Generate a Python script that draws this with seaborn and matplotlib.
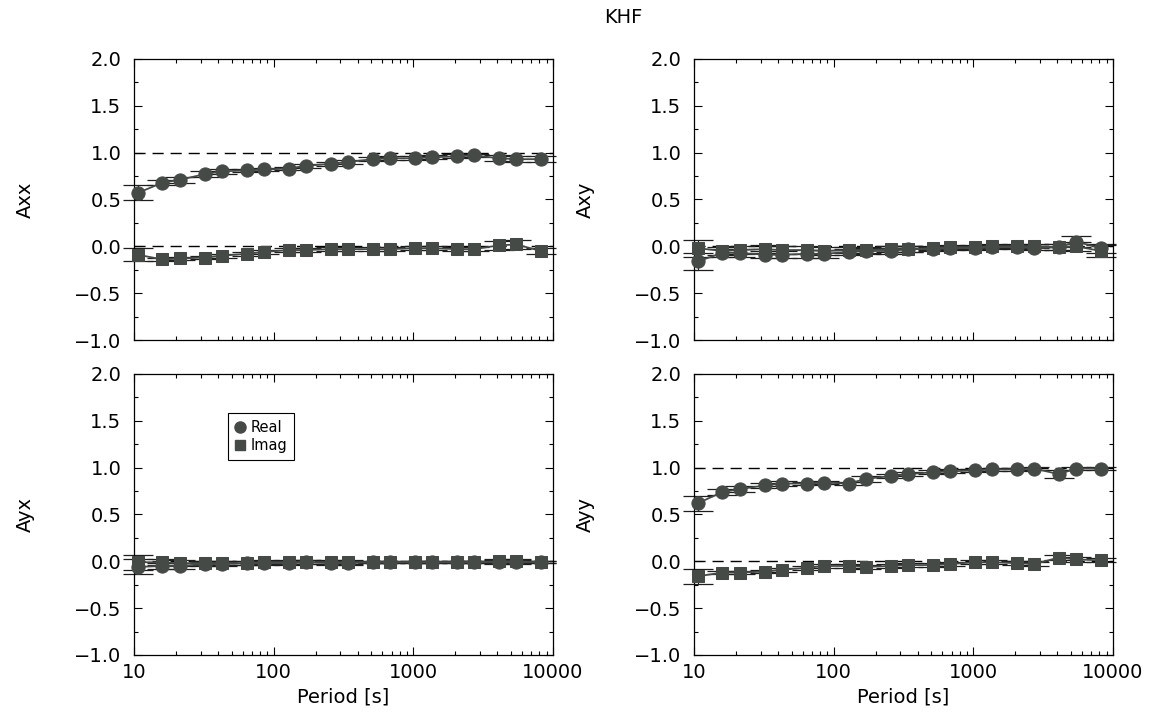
import numpy as np
import pandas as pd
import matplotlib.pyplot as plt
import seaborn as sns
from matplotlib.lines import Line2D
from matplotlib.ticker import MultipleLocator, FixedLocator, FixedFormatter, LogLocator, NullFormatter

# Данные: периоды и компоненты (Real / Imag) с погрешностями
periods = [10.67, 16, 21.33, 32, 42.67, 64, 85.33, 128, 170.67, 256, 341.33,
           512, 682.67, 1024, 1365.33, 2048, 2730.67, 4096, 5461.33, 8192]

axx_re = [0.57, 0.68, 0.71, 0.77, 0.80, 0.81, 0.82, 0.83, 0.86, 0.88, 0.90,
          0.93, 0.94, 0.94, 0.95, 0.96, 0.97, 0.94, 0.93, 0.93]
axx_im = [-0.09, -0.14, -0.13, -0.12, -0.10, -0.08, -0.06, -0.04, -0.04, -0.03, -0.03,
          -0.03, -0.03, -0.02, -0.02, -0.03, -0.03, 0.01, 0.02, -0.05]
axx_re_err = [0.08, 0.03, 0.03, 0.03, 0.03, 0.02, 0.02, 0.02, 0.02, 0.02, 0.02,
              0.02, 0.02, 0.02, 0.02, 0.02, 0.02, 0.03, 0.03, 0.03]
axx_im_err = [0.07, 0.02, 0.02, 0.02, 0.02, 0.02, 0.02, 0.02, 0.02, 0.02, 0.02,
              0.02, 0.02, 0.02, 0.02, 0.02, 0.02, 0.05, 0.05, 0.03]

axy_re = [-0.16, -0.07, -0.07, -0.09, -0.09, -0.08, -0.08, -0.06, -0.05, -0.05, -0.03,
          -0.03, -0.02, -0.02, -0.01, -0.01, -0.02, -0.01, 0.05, -0.02]
axy_im = [-0.02, -0.05, -0.04, -0.03, -0.04, -0.04, -0.05, -0.04, -0.04, -0.03, -0.03,
          -0.02, -0.01, -0.01, 0.00, 0.00, 0.00, -0.01, 0.00, -0.05]
axy_re_err = [0.09, 0.04, 0.04, 0.04, 0.04, 0.04, 0.04, 0.03, 0.03, 0.03, 0.03,
              0.02, 0.02, 0.02, 0.02, 0.02, 0.02, 0.03, 0.06, 0.05]
axy_im_err = [0.09, 0.04, 0.04, 0.04, 0.04, 0.04, 0.04, 0.03, 0.03, 0.03, 0.03,
              0.02, 0.02, 0.02, 0.02, 0.02, 0.02, 0.03, 0.05, 0.06]

ayx_re = [-0.06, -0.05, -0.05, -0.03, -0.03, -0.02, -0.02, -0.02, -0.01, -0.02, -0.02,
          -0.01, -0.01, -0.01, -0.01, -0.01, -0.01, -0.01, -0.01, -0.01]
ayx_im = [-0.01, -0.01, -0.02, -0.02, -0.02, -0.02, -0.01, -0.01, -0.01, -0.01, -0.01,
          -0.01, -0.01, -0.01, -0.01, -0.01, -0.01, 0.00, 0.00, -0.01]
ayx_re_err = [0.08, 0.03, 0.03, 0.02, 0.02, 0.02, 0.02, 0.02, 0.02, 0.02, 0.02,
              0.01, 0.01, 0.01, 0.01, 0.01, 0.01, 0.02, 0.02, 0.01]
ayx_im_err = [0.08, 0.03, 0.03, 0.02, 0.02, 0.02, 0.02, 0.02, 0.02, 0.02, 0.02,
              0.01, 0.01, 0.01, 0.01, 0.01, 0.01, 0.02, 0.02, 0.01]

ayy_re = [0.62, 0.74, 0.77, 0.81, 0.83, 0.83, 0.84, 0.83, 0.88, 0.91, 0.93,
          0.95, 0.96, 0.97, 0.98, 0.98, 0.99, 0.93, 0.99, 0.99]
ayy_im = [-0.16, -0.12, -0.12, -0.11, -0.09, -0.07, -0.05, -0.05, -0.06, -0.05, -0.04,
          -0.04, -0.03, -0.01, -0.01, -0.02, -0.03, 0.04, 0.02, 0.01]
ayy_re_err = [0.08, 0.03, 0.03, 0.03, 0.03, 0.02, 0.02, 0.02, 0.03, 0.02, 0.02,
              0.02, 0.02, 0.02, 0.02, 0.02, 0.02, 0.04, 0.02, 0.02]
ayy_im_err = [0.08, 0.02, 0.02, 0.02, 0.02, 0.02, 0.02, 0.02, 0.02, 0.02, 0.02,
              0.02, 0.02, 0.02, 0.02, 0.02, 0.02, 0.03, 0.03, 0.02]

panels = [
    ("Axx", axx_re, axx_im, axx_re_err, axx_im_err, True),
    ("Axy", axy_re, axy_im, axy_re_err, axy_im_err, False),
    ("Ayx", ayx_re, ayx_im, ayx_re_err, ayx_im_err, False),
    ("Ayy", ayy_re, ayy_im, ayy_re_err, ayy_im_err, True),
]

sns.set_style("ticks")
plt.rcParams['font.family'] = ['DejaVu Sans']
plt.rcParams['axes.unicode_minus'] = True
for key in ('text.color', 'axes.labelcolor', 'xtick.color', 'ytick.color'):
    plt.rcParams[key] = 'black'

mark_col = "#454a47"
line_col = "#1e1e1e"
fs = 14

fig = plt.figure(figsize=(11.58, 7.17), dpi=100)
# позиции осей (в долях фигуры)
rects = [
    [0.1157, 0.5258, 0.3618, 0.3920],
    [0.5993, 0.5258, 0.3618, 0.3920],
    [0.1157, 0.0865, 0.3618, 0.3920],
    [0.5993, 0.0865, 0.3618, 0.3920],
]

for i, (name, re, im, re_err, im_err, diag) in enumerate(panels):
    ax = fig.add_axes(rects[i])
    ax.set_xscale("log")

    if diag:
        ax.axhline(1.0, color="black", lw=1.0, ls=(0, (8, 5)), zorder=1)
    ax.axhline(0.0, color="black", lw=1.0, ls=(0, (8, 5)), zorder=1)

    for vals, errs in ((re, re_err), (im, im_err)):
        cont = ax.errorbar(periods, vals, yerr=errs, fmt="none", ecolor=line_col,
                           elinewidth=0.8, capsize=11, capthick=0.9, zorder=2)
        for art in cont.lines[1]:
            art.set_clip_on(False)
        for art in cont.lines[2]:
            art.set_clip_on(False)

    df = pd.DataFrame({
        "Period": periods + periods,
        "value": re + im,
        "part": ["Real"] * len(periods) + ["Imag"] * len(periods),
    })
    sns.lineplot(data=df, x="Period", y="value", style="part",
                 markers={"Real": "o", "Imag": "s"}, dashes=False,
                 color=mark_col, linewidth=1.3, markersize=9.5,
                 markeredgecolor=mark_col, legend=False, sort=True, ax=ax, zorder=3)
    for ln in ax.lines[-2:]:
        ln.set_clip_on(False)
        if ln.get_marker() == "s":
            ln.set_markersize(8)

    ax.set_xlim(10, 10000)
    ax.set_ylim(-1.0, 2.0)
    ax.yaxis.set_major_locator(MultipleLocator(0.5))
    ax.yaxis.set_minor_locator(MultipleLocator(0.25))
    ax.yaxis.set_major_formatter(plt.FuncFormatter(lambda v, p: f"{v:.1f}".replace("-", "\u2212")))
    ax.xaxis.set_major_locator(FixedLocator([10, 100, 1000, 10000]))
    ax.xaxis.set_minor_locator(LogLocator(base=10, subs=np.arange(2, 10)))
    ax.xaxis.set_minor_formatter(NullFormatter())
    if i >= 2:
        ax.xaxis.set_major_formatter(FixedFormatter(["10", "100", "1000", "10000"]))
        ax.set_xlabel("Period [s]", fontsize=fs, labelpad=4)
    else:
        ax.set_xticklabels([])
        ax.set_xlabel("")
    ax.set_ylabel(name, fontsize=fs, labelpad=28)

    ax.tick_params(which="both", direction="in", top=True, right=True,
                   labelsize=fs, width=0.8, color="black")
    ax.tick_params(which="major", length=6)
    ax.tick_params(which="minor", length=3)
    ax.tick_params(axis="y", which="major", pad=9)
    ax.tick_params(axis="x", which="major", pad=6)
    for sp in ax.spines.values():
        sp.set_linewidth(0.9)
        sp.set_color("black")

    if name == "Ayx":
        handles = [
            Line2D([], [], ls="none", marker="o", markersize=8, color=mark_col, label="Real"),
            Line2D([], [], ls="none", marker="s", markersize=7, color=mark_col, label="Imag"),
        ]
        leg = ax.legend(handles=handles, loc="upper left", bbox_to_anchor=(0.224, 0.86),
                        fontsize=10.5, frameon=True, fancybox=False, edgecolor="black",
                        framealpha=1, handlelength=0.8, handletextpad=0.3,
                        borderpad=0.45, labelspacing=0.25, borderaxespad=0)
        leg.get_frame().set_linewidth(0.8)

fig.text(0.538, 0.975, "KHF", ha="center", va="center", fontsize=fs)

fig.savefig("out.png", dpi=100)
